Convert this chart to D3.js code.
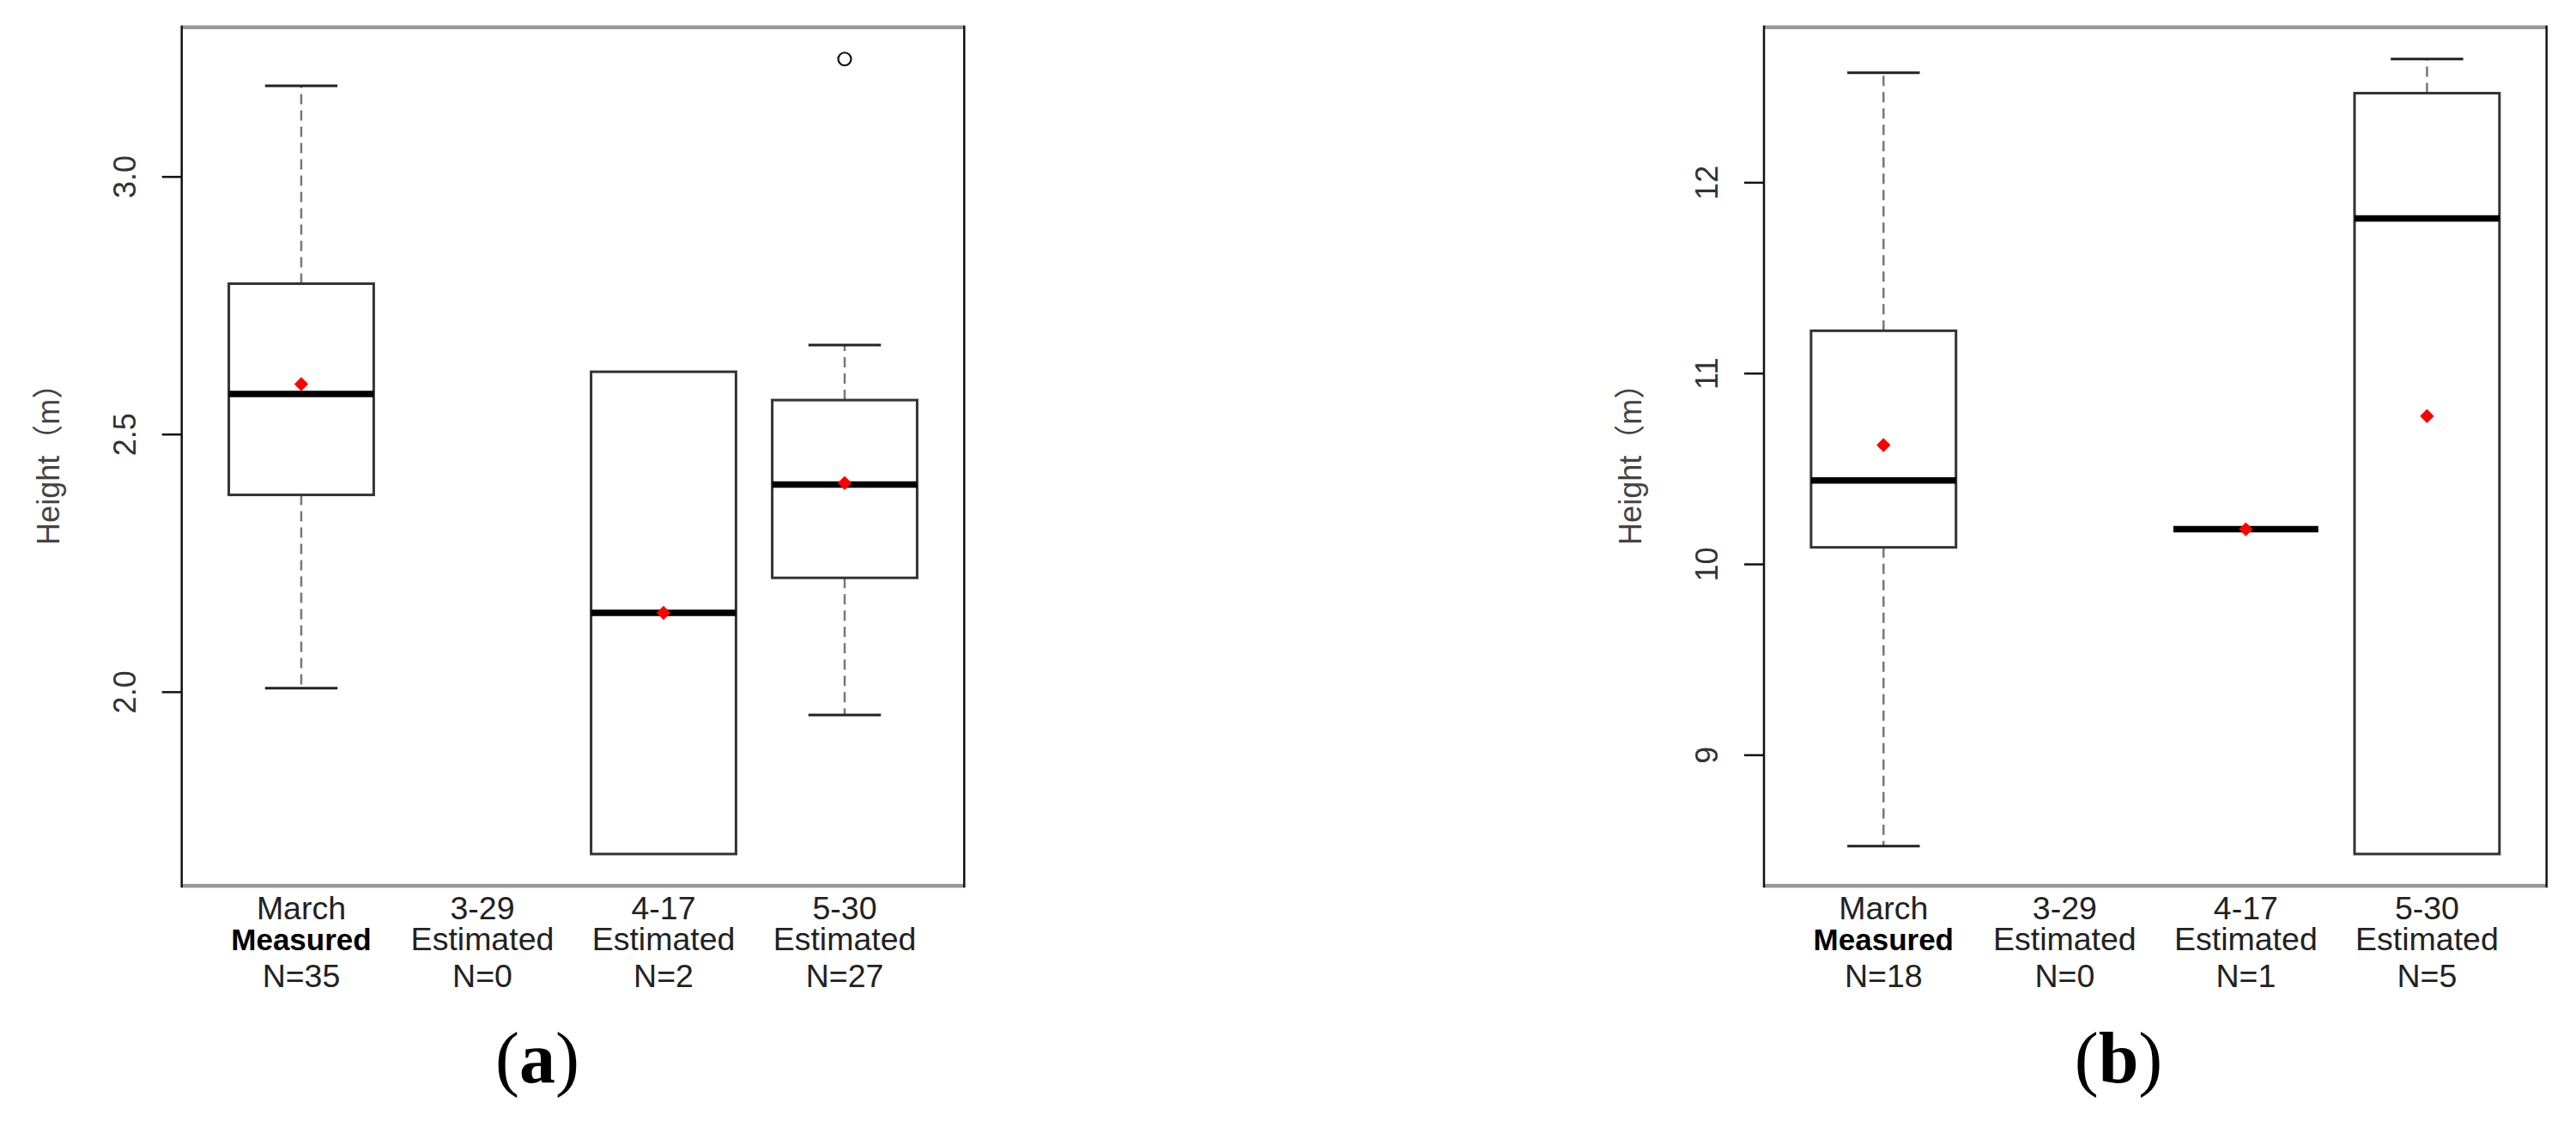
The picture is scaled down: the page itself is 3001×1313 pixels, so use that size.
<!DOCTYPE html>
<html>
<head>
<meta charset="utf-8">
<script src="https://cdn.jsdelivr.net/npm/d3@7"></script>
<style>
  body { margin: 0; background: #fff; }
  svg text { font-family: "Liberation Sans", Arial, "Noto Sans CJK SC", sans-serif; }
</style>
</head>
<body>
<svg id="chart" width="3001" height="1313"></svg>
<script>
// ── Data ──────────────────────────────────────────────────────────────────────
const CATEGORIES = ['March', '3-29', '4-17', '5-30'];
const METHODS    = ['Measured', 'Estimated', 'Estimated', 'Estimated'];

// panel (a)
const A_COUNTS   = [35, 0, 2, 27];
const A_LOW      = [2.007, null, 1.685, 1.955];
const A_Q1       = [2.382, null, 1.685, 2.221];
const A_MEDIAN   = [2.578, null, 2.153, 2.402];
const A_Q3       = [2.792, null, 2.621, 2.566];
const A_HIGH     = [3.176, null, 2.621, 2.673];
const A_MEAN     = [2.597, null, 2.153, 2.405];
const A_OUTLIERS = [[], [], [], [3.228]];
const A_TICKS    = [2.0, 2.5, 3.0];

// panel (b)
const B_COUNTS   = [18, 0, 1, 5];
const B_LOW      = [8.521, null, 10.182, 8.480];
const B_Q1       = [10.087, null, 10.182, 8.480];
const B_MEDIAN   = [10.437, null, 10.182, 11.811];
const B_Q3       = [11.222, null, 10.182, 12.467];
const B_HIGH     = [12.574, null, 10.182, 12.646];
const B_MEAN     = [10.623, null, 10.182, 10.775];
const B_OUTLIERS = [[], [], [], []];
const B_TICKS    = [9, 10, 11, 12];

const Y_TITLE = 'Height（m）';

// ── Layout ────────────────────────────────────────────────────────────────────
const TOP = 31.7, BOTTOM = 1032;
const svg = d3.select('#chart');

function drawPanel(opt) {
    const stats = CATEGORIES.map((c, i) => ({
        cat: c, method: METHODS[i], n: opt.counts[i],
        low: opt.low[i], q1: opt.q1[i], med: opt.median[i],
        q3: opt.q3[i], high: opt.high[i], mean: opt.mean[i],
        out: opt.outliers[i],
    }));

    // y domain: data range padded by 4% like R
    const all = stats.flatMap(d => d.low == null ? [] : [d.low, d.high, ...d.out]);
    const lo = d3.min(all), hi = d3.max(all), pad = (hi - lo) * 0.04;
    const y = d3.scaleLinear().domain([lo - pad, hi + pad]).range([BOTTOM, TOP]);

    const x = d3.scalePoint().domain(CATEGORIES)
        .range([opt.left, opt.right]).padding(0.66);
    const boxW = x.step() * 0.8;

    const g = svg.append('g');

    // Y axis
    const axis = g.append('g')
        .attr('transform', `translate(${opt.left},0)`)
        .call(d3.axisLeft(y).tickValues(opt.ticks).tickSize(23)
            .tickFormat(opt.fmt));
    axis.select('.domain').remove();
    axis.selectAll('.tick line').attr('stroke', '#111').attr('stroke-width', 2.5);
    axis.selectAll('.tick text')
        .attr('transform', 'rotate(-90)')
        .attr('x', 0).attr('y', -54).attr('dy', 0)
        .attr('text-anchor', 'middle')
        .attr('font-size', 36)
        .attr('fill', '#333');

    // Y title
    g.append('text')
        .attr('transform', `translate(${opt.left - 143},${(TOP + BOTTOM) / 2}) rotate(-90)`)
        .attr('text-anchor', 'middle')
        .attr('font-size', 36)
        .attr('fill', '#444')
        .text(Y_TITLE);

    const present = stats.filter(d => d.low != null);

    // Whiskers (dashed)
    ['low', 'high'].forEach(k => {
        g.selectAll(`line.wh-${k}`)
            .data(present.filter(d => d[k] !== (k === 'low' ? d.q1 : d.q3)))
            .join('line')
            .attr('x1', d => x(d.cat)).attr('x2', d => x(d.cat))
            .attr('y1', d => y(k === 'low' ? d.q1 : d.q3))
            .attr('y2', d => y(d[k]))
            .attr('stroke', '#777').attr('stroke-width', 2.5)
            .attr('stroke-dasharray', '12,7');
        g.selectAll(`line.cap-${k}`)
            .data(present.filter(d => d[k] !== (k === 'low' ? d.q1 : d.q3)))
            .join('line')
            .attr('x1', d => x(d.cat) - boxW / 4).attr('x2', d => x(d.cat) + boxW / 4)
            .attr('y1', d => y(d[k])).attr('y2', d => y(d[k]))
            .attr('stroke', '#222').attr('stroke-width', 3);
    });

    // Boxes
    g.selectAll('rect.box')
        .data(present.filter(d => d.q3 > d.q1))
        .join('rect')
        .attr('x', d => x(d.cat) - boxW / 2)
        .attr('y', d => y(d.q3))
        .attr('width', boxW)
        .attr('height', d => y(d.q1) - y(d.q3))
        .attr('fill', '#fff')
        .attr('stroke', '#333').attr('stroke-width', 3);

    // Medians
    g.selectAll('line.med')
        .data(present)
        .join('line')
        .attr('x1', d => x(d.cat) - boxW / 2).attr('x2', d => x(d.cat) + boxW / 2)
        .attr('y1', d => y(d.med)).attr('y2', d => y(d.med))
        .attr('stroke', '#000').attr('stroke-width', 7.5);

    // Outliers
    g.selectAll('circle.out')
        .data(present.flatMap(d => d.out.map(v => ({ cat: d.cat, v }))))
        .join('circle')
        .attr('cx', d => x(d.cat)).attr('cy', d => y(d.v))
        .attr('r', 7.5)
        .attr('fill', 'none').attr('stroke', '#111').attr('stroke-width', 2.2);

    // Means (red diamonds)
    g.selectAll('path.mean')
        .data(present)
        .join('path')
        .attr('transform', d => `translate(${x(d.cat)},${y(d.mean)})`)
        .attr('d', d3.symbol(d3.symbolDiamond2, 170))
        .attr('fill', '#ff0000');

    // Frame: horizontal edges greyer/thicker, vertical edges black
    g.append('line').attr('x1', opt.left).attr('x2', opt.right).attr('y1', TOP).attr('y2', TOP)
        .attr('stroke', '#999').attr('stroke-width', 4.5);
    g.append('line').attr('x1', opt.left).attr('x2', opt.right).attr('y1', BOTTOM).attr('y2', BOTTOM)
        .attr('stroke', '#999').attr('stroke-width', 4.5);
    [opt.left, opt.right].forEach(xx => {
        g.append('line').attr('x1', xx).attr('x2', xx).attr('y1', TOP - 2).attr('y2', BOTTOM + 2)
            .attr('stroke', '#111').attr('stroke-width', 2.5);
    });

    // X labels
    const lab = g.selectAll('g.xlab')
        .data(stats)
        .join('g')
        .attr('transform', d => `translate(${x(d.cat)},${BOTTOM})`)
        .attr('text-anchor', 'middle')
        .attr('font-size', 37.5)
        .attr('fill', '#222');
    lab.append('text').attr('y', 39).text(d => d.cat);
    lab.append('text').attr('y', 75)
        .attr('font-weight', d => d.method === 'Measured' ? 'bold' : null)
        .attr('font-size', d => d.method === 'Measured' ? 35 : null)
        .attr('fill', d => d.method === 'Measured' ? '#000' : null)
        .text(d => d.method);
    lab.append('text').attr('y', 118).text(d => `N=${d.n}`);

    // Panel caption
    const cap = g.append('text')
        .attr('x', opt.capX).attr('y', 1261)
        .attr('text-anchor', 'middle')
        .attr('font-size', 84)
        .style('font-family', '"Liberation Serif", "Times New Roman", serif')
        .attr('fill', '#000');
    cap.append('tspan').text('(');
    cap.append('tspan').attr('font-weight', 'bold').text(opt.caption);
    cap.append('tspan').text(')');
}

drawPanel({
    left: 211.7, right: 1123.3, capX: 626, caption: 'a',
    counts: A_COUNTS, low: A_LOW, q1: A_Q1, median: A_MEDIAN, q3: A_Q3,
    high: A_HIGH, mean: A_MEAN, outliers: A_OUTLIERS,
    ticks: A_TICKS, fmt: d3.format('.1f'),
});

drawPanel({
    left: 2055, right: 2966.7, capX: 2468, caption: 'b',
    counts: B_COUNTS, low: B_LOW, q1: B_Q1, median: B_MEDIAN, q3: B_Q3,
    high: B_HIGH, mean: B_MEAN, outliers: B_OUTLIERS,
    ticks: B_TICKS, fmt: d3.format('d'),
});
</script>
</body>
</html>
